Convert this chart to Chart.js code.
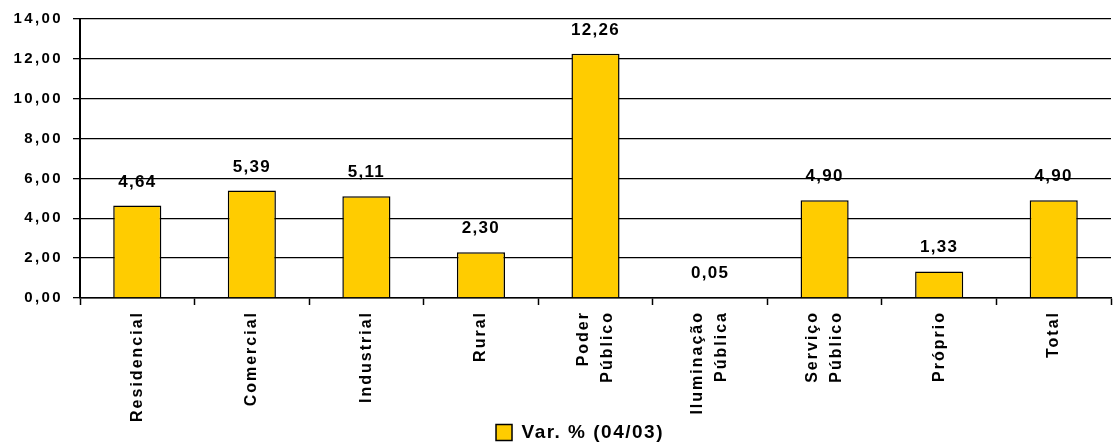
<!DOCTYPE html>
<html>
<head>
<meta charset="utf-8">
<script src="https://cdn.jsdelivr.net/npm/chart.js@4.4.0/dist/chart.umd.min.js"></script>
<style>
  html, body { margin: 0; padding: 0; background: #ffffff; }
  #wrap { width: 1114px; height: 448px; }
</style>
</head>
<body>
<div id="wrap"><canvas id="chart" width="1114" height="448"></canvas></div>
<script>
// Consumption variation by customer class
const categories = [
  'Residencial', 'Comercial', 'Industrial', 'Rural',
  ['Poder', 'Público'], ['Iluminação', 'Pública'], ['Serviço', 'Público'],
  'Próprio', 'Total'
];
const variation = [4.64, 5.39, 5.11, 2.30, 12.26, 0.05, 4.90, 1.33, 4.90];
const seriesName = 'Var. % (04/03)';
const yMin = 0;
const yMax = 14;
const yStep = 2;

const FONT = '"Liberation Sans", Arial, sans-serif';
const fmt = v => v.toFixed(2).replace('.', ',');

// Values written above each bar
const valueLabels = {
  id: 'valueLabels',
  afterDatasetsDraw(chart) {
    const ctx = chart.ctx;
    const meta = chart.getDatasetMeta(0);
    ctx.save();
    ctx.font = 'bold 17px ' + FONT;
    ctx.letterSpacing = '1.3px';
    ctx.fillStyle = '#000000';
    ctx.textAlign = 'center';
    ctx.textBaseline = 'alphabetic';
    meta.data.forEach((bar, i) => {
      ctx.fillText(fmt(variation[i]), bar.x, bar.y - 19);
    });
    ctx.restore();
  }
};

// Letter spacing on axis labels and the legend; multi-line category
// labels are centred on their tick; rotated labels are not clipped.
const axisText = {
  id: 'axisText',
  afterLayout(chart) {
    Object.values(chart.scales).forEach(s => {
      if (s._tuned) return;
      const spacing = s.isHorizontal() ? '2px' : '2.4px';
      const origDraw = s.drawLabels.bind(s);
      s.drawLabels = function (area) {
        const c = this.ctx;
        const prev = c.letterSpacing;
        c.letterSpacing = spacing;
        origDraw(area);
        c.letterSpacing = prev;
      };
      if (s.isHorizontal()) {
        s._computeLabelArea = () => undefined;
        const origItems = s.getLabelItems.bind(s);
        s.getLabelItems = function (area) {
          const items = origItems(area);
          if (this._shiftedItems !== items) {
            items.forEach(it => {
              const n = Array.isArray(it.label) ? it.label.length : 1;
              if (n > 1) it.options.translation[0] -= (n - 1) * it.font.lineHeight / 2;
            });
            this._shiftedItems = items;
          }
          return items;
        };
      }
      s._tuned = true;
    });
    const lg = chart.legend;
    if (lg && !lg._tuned) {
      const origLegend = lg.draw.bind(lg);
      lg.draw = function () {
        const c = this.ctx;
        c.save();
        c.letterSpacing = '1.5px';
        c.translate(14, 4);
        origLegend();
        c.restore();
      };
      lg._tuned = true;
    }
  }
};

new Chart(document.getElementById('chart'), {
  type: 'bar',
  data: {
    labels: categories,
    datasets: [{
      label: seriesName,
      data: variation,
      backgroundColor: '#FFCC00',
      borderColor: '#000000',
      borderWidth: 1.5,
      categoryPercentage: 1,
      barPercentage: 0.42
    }]
  },
  options: {
    responsive: false,
    animation: false,
    devicePixelRatio: 1,
    layout: { padding: { top: 19, right: 3, left: 0, bottom: 0 } },
    plugins: {
      tooltip: { enabled: false },
      legend: {
        position: 'bottom',
        labels: {
          color: '#000000',
          font: { family: FONT, size: 19, weight: 'bold' },
          boxWidth: 16,
          boxHeight: 16,
          padding: 10
        }
      }
    },
    scales: {
      x: {
        offset: true,
        grid: {
          offset: true,
          drawOnChartArea: false,
          drawTicks: true,
          tickLength: 7,
          tickColor: '#000000',
          tickWidth: 1.5
        },
        border: { display: true, color: '#000000', width: 1.5 },
        ticks: {
          autoSkip: false,
          maxRotation: 90,
          minRotation: 90,
          padding: 6,
          color: '#000000',
          font: { family: FONT, size: 16, weight: 'bold', lineHeight: 1.5 }
        },
        afterFit(scale) { scale.height = 111; }
      },
      y: {
        min: yMin,
        max: yMax,
        grid: {
          color: '#000000',
          lineWidth: 1.3,
          drawTicks: true,
          tickLength: 7,
          tickColor: '#000000'
        },
        border: { display: true, color: '#000000', width: 2 },
        ticks: {
          stepSize: yStep,
          padding: 10,
          color: '#000000',
          font: { family: FONT, size: 15, weight: 'bold' },
          callback: v => fmt(v)
        },
        afterFit(scale) { scale.width = 80; }
      }
    }
  },
  plugins: [valueLabels, axisText]
});
</script>
</body>
</html>
